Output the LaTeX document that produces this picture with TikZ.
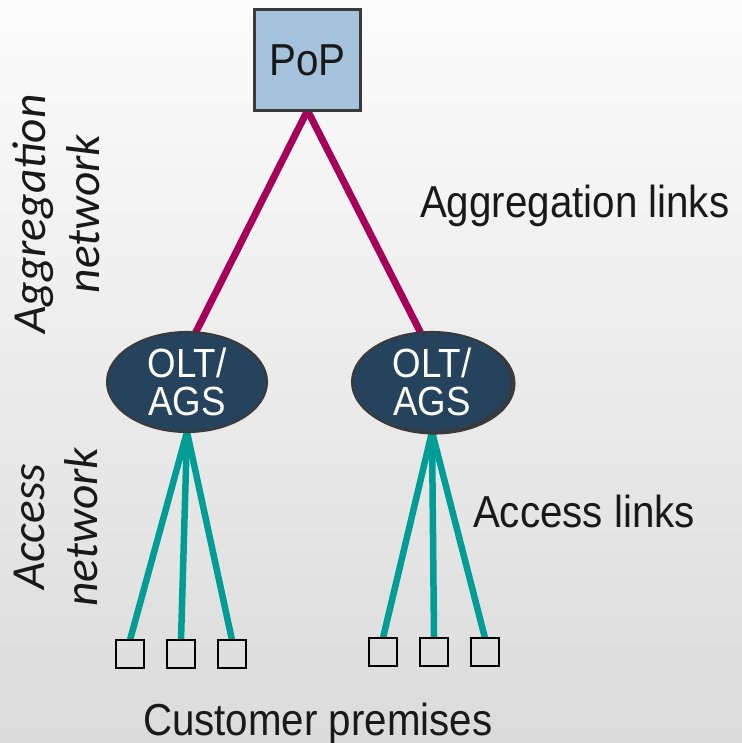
\documentclass[tikz,border=0pt]{standalone}
\usepackage{fontspec}
\setmainfont{Liberation Sans}[FakeStretch=0.9]
\newfontfamily\sidefont{Carlito}
\usetikzlibrary{shapes.geometric,shadows,backgrounds}

\definecolor{popblue}{RGB}{164,194,220}
\definecolor{oltnavy}{RGB}{37,67,93}
\definecolor{rimgray}{RGB}{58,58,58}
\definecolor{aggred}{RGB}{165,0,90}
\definecolor{accteal}{RGB}{0,156,150}
\definecolor{bgtop}{RGB}{252,252,252}
\definecolor{bgbottom}{RGB}{219,219,219}

\begin{document}
\begin{tikzpicture}[x=0.02cm, y=-0.02cm,
  every node/.style={inner sep=0pt, outer sep=0pt},
  linktext/.style={font=\fontsize{25.5}{30}\selectfont, text=black!90},
  popbox/.style={draw=rimgray, line width=1.6pt, fill=popblue, minimum width=2.12cm, minimum height=2.02cm, linktext},
  oltnode/.style={ellipse, draw=rimgray, line width=1.2pt, fill=oltnavy, minimum width=3.2cm, minimum height=2cm, text=white, align=center, font=\fontsize{23.2}{21.5}\selectfont},
  cpbox/.style={draw=black, line width=1.6pt, minimum size=0.56cm},
  sidetext/.style={rotate=90, align=center, font=\sidefont\itshape\fontsize{27}{30.6}\selectfont, text=black!90},
  aggline/.style={aggred, line width=4pt},
  accline/.style={accteal, line width=3.7pt}]
\useasboundingbox (0,0) rectangle (742,743);

% central office and the two OLTs
\node[popbox] (pop) at (307.5,60) {PoP};
\node[oltnode] (oltL) at (187,382) {OLT/\\AGS};
\node[oltnode, copy shadow={shadow xshift=0.05cm, shadow yshift=-0.03cm}] (oltR) at (432,382) {OLT/\\AGS};

% customer premises
\node[cpbox] (cpL1) at (130,654) {};
\node[cpbox] (cpL2) at (181,654) {};
\node[cpbox] (cpL3) at (232,654) {};
\node[cpbox] (cpR1) at (383,652) {};
\node[cpbox] (cpR2) at (434,652) {};
\node[cpbox] (cpR3) at (485,652) {};

% labels
\node[linktext, anchor=base west] (aggtext) at (420,217) {Aggregation links};
\node[linktext, anchor=base west] (acctext) at (473,527) {Access links};
\node[linktext, anchor=base west] (cptext) at (143,735) {Customer premises};
\node[sidetext] (aggnet) at (56,214) {Aggregation\\network};
\node[sidetext] (accnet) at (56,527) {Access\\network};

\begin{scope}[on background layer]
\shade[top color=bgtop, bottom color=bgbottom] (0,0) rectangle (742,743);
\draw[aggline] (pop.south) -- (oltL.80);
\draw[aggline] (pop.south) -- (oltR.103);
\foreach \i in {1,2,3} {
  \draw[accline] (oltL.south) -- (cpL\i.north);
  \draw[accline] (oltR.south) -- (cpR\i.north);
}
\end{scope}
\end{tikzpicture}
\end{document}
